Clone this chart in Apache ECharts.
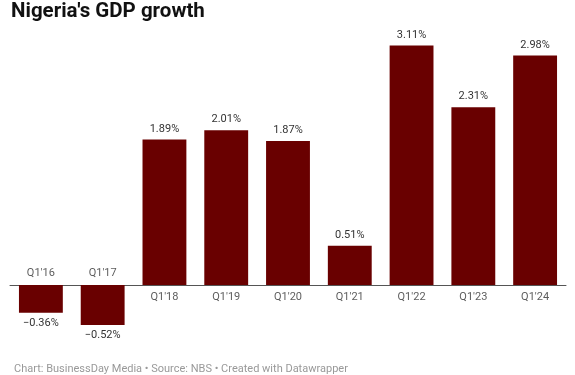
<!DOCTYPE html>
<html><head><meta charset="utf-8">
<script src="https://cdn.jsdelivr.net/npm/echarts@6/dist/echarts.min.js"></script>
<style>html,body{margin:0;padding:0;background:#fff}#c{width:575px;height:375px}</style>
</head><body><div id="c"></div>
<script>
const categories = ["Q1'16","Q1'17","Q1'18","Q1'19","Q1'20","Q1'21","Q1'22","Q1'23","Q1'24"];
const growth = [-0.36,-0.52,1.89,2.01,1.87,0.51,3.11,2.31,2.98];
const titleText = "Nigeria's GDP growth";
const footerText = "Chart: BusinessDay Media \u2022 Source: NBS \u2022 Created with Datawrapper";

const font = 'Roboto, "Noto Sans", sans-serif';
const chart = echarts.init(document.getElementById('c'), null, {renderer:'canvas'});
chart.setOption({
  animation:false,
  title:[
    {text:titleText,left:6,top:-4,textStyle:{fontFamily:font,fontWeight:'bold',fontSize:20.5,color:'#111'}},
    {text:footerText,left:9,bottom:-5,textStyle:{fontFamily:font,fontWeight:'normal',fontSize:11,color:'#999'}}
  ],
  grid:{left:10,right:9,top:15.5,bottom:13},
  xAxis:{type:'category',data:categories,axisLine:{onZero:true,lineStyle:{color:'#555',width:1}},axisTick:{show:false},axisLabel:{show:false}},
  yAxis:{type:'value',min:-1,max:3.5,show:false,splitLine:{show:false}},
  series:[
    {type:'bar',barCategoryGap:'29%',itemStyle:{color:'#690000'},
     data:growth.map(v=>({value:v,label:{position:v<0?'bottom':'top'}})),
     label:{show:true,distance:5,fontFamily:font,fontSize:11,color:'#333',formatter:p=>p.value.toFixed(2).replace('-','\u2212')+'%'}},
    {type:'scatter',symbolSize:0,silent:true,z:5,
     data:growth.map((v,i)=>({value:[categories[i],0],label:{position:v<0?'top':'bottom',distance:v<0?6:7}})),
     label:{show:true,fontFamily:font,fontSize:11,color:'#333',formatter:p=>categories[p.dataIndex]}}
  ]
});
</script></body></html>
